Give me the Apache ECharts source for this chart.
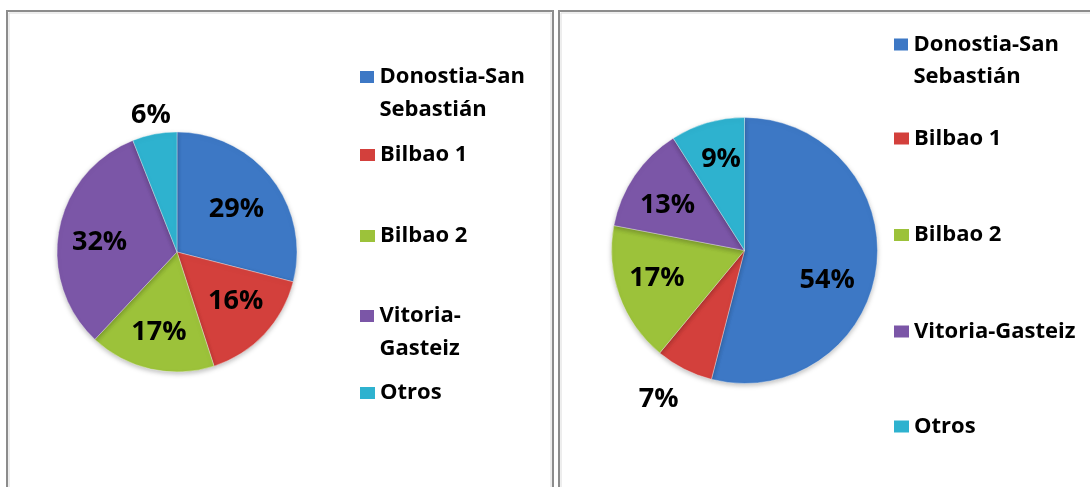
<!DOCTYPE html>
<html>
<head>
<meta charset="utf-8">
<script src="https://cdn.jsdelivr.net/npm/echarts@6/dist/echarts.min.js"></script>
<style>
html,body{margin:0;padding:0;background:#fff;}
#chart{width:1090px;height:487px;}
</style>
</head>
<body>
<div id="chart"></div>
<script>
// ---- data ----
const categories = ['Donostia-San Sebastián', 'Bilbao 1', 'Bilbao 2', 'Vitoria-Gasteiz', 'Otros'];
const valuesLeft = [29, 16, 17, 32, 6];
const valuesRight = [54, 7, 17, 13, 9];
const legendLabelsLeft = ['Donostia-San\nSebastián', 'Bilbao 1', 'Bilbao 2', 'Vitoria-\nGasteiz', 'Otros'];
const legendLabelsRight = ['Donostia-San\nSebastián', 'Bilbao 1', 'Bilbao 2', 'Vitoria-Gasteiz', 'Otros'];

// ---- style ----
const colors = ['#3d78c5', '#d3403c', '#9cc23a', '#7b56a7', '#2eb2cf'];
const FONT = '"Open Sans", "Liberation Sans", sans-serif';
const pieL = { cx: 177, cy: 252, r: 120 };
const pieR = { cx: 744.5, cy: 250.5, r: 133 };
// label placement: fraction of radius and angular shift (deg, math)
const labelFracL = [0.61, 0.64, 0.69, 0.65, 1.16];
const labelShiftL = [-2, 3, 0, 4, 0];
const labelFracR = [0.66, 1.29, 0.69, 0.67, 0.71];
const labelShiftR = [-12.5, -3, -2.4, 4, -1.8];
const legendTopsL = [60.5, 138.5, 219.5, 299.5, 376.5];
const legendTopsR = [29, 122.5, 219, 315.5, 410.5];
const twoLineIcon = 'path://M0,0L14,0L14,12L0,12Z M0,45L14,45L14,45Z';

function makeLabelLayout(p, frac, shift) {
  return function (params) {
    const rc = params.labelRect;
    const lx = rc.x + rc.width / 2, ly = rc.y + rc.height / 2;
    const aMath = Math.atan2(-(ly - p.cy), lx - p.cx) + shift[params.dataIndex] * Math.PI / 180;
    const rr = frac[params.dataIndex] * p.r;
    const tx = p.cx + rr * Math.cos(aMath);
    const ty = p.cy - rr * Math.sin(aMath);
    return { dx: tx - lx, dy: ty - ly };
  };
}

function makeSeries(vals, p, frac, shift) {
  return {
    type: 'pie',
    center: [p.cx, p.cy],
    radius: [0, p.r],
    startAngle: 90,
    clockwise: true,
    avoidLabelOverlap: false,
    data: categories.map((c, i) => ({ name: c, value: vals[i] })),
    itemStyle: {
      borderColor: 'rgba(255,255,255,0.35)',
      borderWidth: 1,
      shadowBlur: 5,
      shadowOffsetY: 2,
      shadowColor: 'rgba(0,0,0,0.25)'
    },
    label: {
      show: true,
      position: 'inside',
      formatter: (prm) => Math.round(prm.percent) + '%',
      color: '#000',
      fontFamily: FONT,
      fontWeight: 'bold',
      fontSize: 27
    },
    labelLine: { show: false },
    labelLayout: makeLabelLayout(p, frac, shift),
    emphasis: { disabled: true }
  };
}

function makeLegends(labels, tops, left, lh) {
  return categories.map((c, i) => {
    const two = labels[i].indexOf('\n') >= 0;
    return {
      data: [c],
      left: left,
      top: tops[i],
      orient: 'vertical',
      padding: 0,
      icon: two ? twoLineIcon : 'rect',
      itemWidth: 15,
      itemHeight: two ? 45 : 12,
      itemStyle: { borderWidth: 0, shadowBlur: 0 },
      selectedMode: false,
      formatter: () => labels[i],
      textStyle: {
        fontFamily: FONT,
        fontWeight: 'bold',
        fontSize: 22,
        lineHeight: lh,
        color: '#000'
      }
    };
  });
}

const chart = echarts.init(document.getElementById('chart'), null, { renderer: 'canvas' });
chart.setOption({
  animation: false,
  color: colors,
  graphic: [
    { type: 'rect', shape: { x: 7, y: 11, width: 546, height: 500 }, style: { fill: 'none', stroke: '#8c8c8c', lineWidth: 2 }, z: -1 },
    { type: 'rect', shape: { x: 9, y: 13, width: 542, height: 500 }, style: { fill: 'none', stroke: '#dcdcdc', lineWidth: 1 }, z: -1 },
    { type: 'rect', shape: { x: 559, y: 11, width: 560, height: 500 }, style: { fill: 'none', stroke: '#8c8c8c', lineWidth: 2 }, z: -1 },
    { type: 'rect', shape: { x: 561, y: 13, width: 560, height: 500 }, style: { fill: 'none', stroke: '#dcdcdc', lineWidth: 1 }, z: -1 }
  ],
  legend: makeLegends(legendLabelsLeft, legendTopsL, 360, 33).concat(makeLegends(legendLabelsRight, legendTopsR, 894, 32)),
  series: [
    makeSeries(valuesLeft, pieL, labelFracL, labelShiftL),
    makeSeries(valuesRight, pieR, labelFracR, labelShiftR)
  ]
});
</script>
</body>
</html>
